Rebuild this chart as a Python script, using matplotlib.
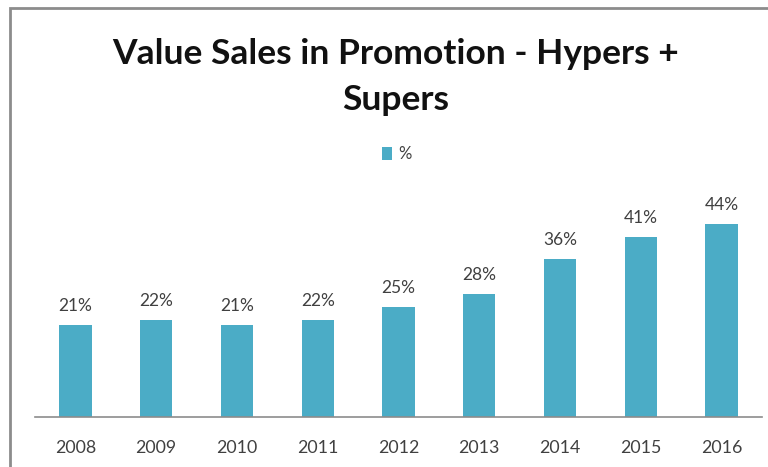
import matplotlib
matplotlib.use("Agg")
import matplotlib.pyplot as plt
from matplotlib.patches import Rectangle, Patch

years = ["2008", "2009", "2010", "2011", "2012", "2013", "2014", "2015", "2016"]
share_pct = [21, 22, 21, 22, 25, 28, 36, 41, 44]
series_name = "%"
title = "Value Sales in Promotion - Hypers +\nSupers"

BAR = "#4BACC6"
TXT = "#404040"
FONT = ["Lato", "DejaVu Sans"]

W, H = 768, 467
fig = plt.figure(figsize=(W / 100, H / 100), dpi=100)
fig.patch.set_facecolor("white")

# chart frame (runs off the right and bottom edges)
fig.patches.append(Rectangle((10 / W, -0.05), 1.2, 1 - 7.5 / H + 0.05,
                             transform=fig.transFigure, fill=False,
                             edgecolor="#8c8c8c", linewidth=2))

left, right = 35, 762
base_y, top_y = 416.7, 197.7
ax = fig.add_axes([left / W, 1 - base_y / H, (right - left) / W, (base_y - top_y) / H])
x = range(len(years))
bars = ax.bar(x, share_pct, width=0.40, color=BAR, zorder=2)
ax.set_xlim(-0.5, len(years) - 0.5)
ax.set_ylim(0, 50)

for rect, v in zip(bars, share_pct):
    ax.annotate(f"{v}%", (rect.get_x() + rect.get_width() / 2, rect.get_height()),
                xytext=(0, 8), textcoords="offset points", ha="center", va="bottom",
                fontsize=12.5, color=TXT, family=FONT)

ax.set_xticks(list(x))
ax.set_xticklabels(years, fontsize=12.8, color=TXT, family=FONT)
ax.tick_params(axis="x", length=0, pad=16.5)
ax.set_yticks([])
for s in ("top", "right", "left"):
    ax.spines[s].set_visible(False)
ax.spines["bottom"].set_color("#8c8c8c")
ax.spines["bottom"].set_linewidth(1.2)
ax.patch.set_alpha(0)

fig.text(396 / W, 1 - 77 / H, title, ha="center", va="center", fontsize=25.5,
         fontweight="bold", color="#111111", family=FONT, linespacing=1.5)

fig.legend(handles=[Patch(facecolor=BAR, label=series_name)],
           loc="center", bbox_to_anchor=(397 / W, 1 - 154 / H),
           frameon=False, handlelength=0.6, handleheight=0.8, handletextpad=0.4,
           prop={"family": FONT, "size": 12}, labelcolor=TXT)

fig.savefig("out.png", dpi=100)
